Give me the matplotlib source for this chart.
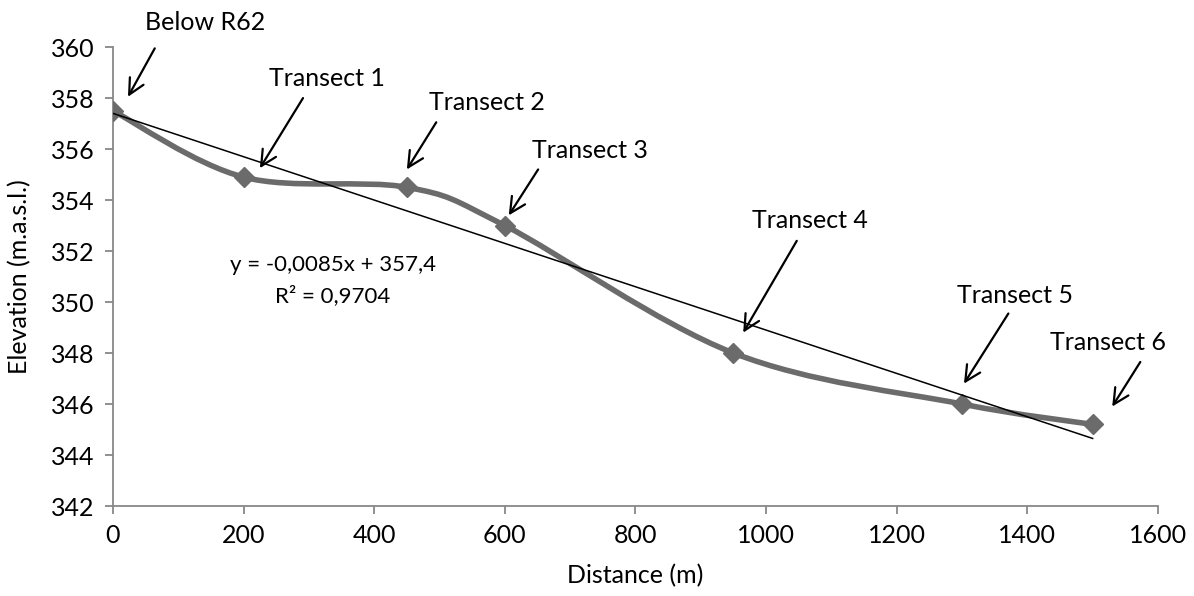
import numpy as np
import matplotlib.pyplot as plt
from matplotlib.path import Path
from matplotlib.patches import PathPatch

plt.rcParams['font.family'] = ['Lato', 'DejaVu Sans']

# Data
distance = [0, 200, 450, 600, 950, 1300, 1500]
elevation = [357.5, 354.9, 354.5, 353.0, 348.0, 346.0, 345.2]
labels = ['Below R62', 'Transect 1', 'Transect 2', 'Transect 3',
          'Transect 4', 'Transect 5', 'Transect 6']
# arrow head, arrow tail and label centre, data coords
arrow_heads = [(23, 358.05), (225, 355.25), (450, 355.2), (606, 353.4),
               (965, 348.8), (1303, 346.8), (1530, 345.9)]
arrow_tails = [(64, 359.95), (291, 358.0), (495, 357.05), (651, 355.2),
               (1047, 352.4), (1371, 349.55), (1573, 347.65)]
text_pos = [(141, 360.98), (328, 358.78), (573, 357.84), (730, 355.96),
            (1067, 353.2), (1381, 350.27), (1524, 348.43)]

slope, intercept = -0.0085, 357.4
r2 = 0.9704

fig = plt.figure(figsize=(11.94, 5.96), dpi=100)
ax = fig.add_axes([0.0946, 0.151, 0.8752, 0.770])

# Excel style smoothed line via cubic bezier segments
pts = np.array(list(zip(distance, elevation)), dtype=float)
ext = np.vstack([pts[0], pts, pts[-1]])
verts = [tuple(pts[0])]
codes = [Path.MOVETO]
for i in range(len(pts) - 1):
    p0, p1, p2, p3 = ext[i], ext[i + 1], ext[i + 2], ext[i + 3]
    c1 = p1 + (p2 - p0) / 6
    c2 = p2 - (p3 - p1) / 6
    verts += [tuple(c1), tuple(c2), tuple(p2)]
    codes += [Path.CURVE4] * 3
curve = PathPatch(Path(verts, codes), facecolor='none', edgecolor='#6b6b6b',
                  lw=4.0, capstyle='round', joinstyle='round', zorder=2)
ax.add_patch(curve)
ax.plot(distance, elevation, 'D', color='#6b6b6b', markersize=10, zorder=3)

# linear trendline
xt = np.array([distance[0], distance[-1]])
ax.plot(xt, slope * xt + intercept, color='black', lw=1.1, zorder=4)

ax.text(337, 351.45, 'y = -0,0085x + 357,4', ha='center', va='center', fontsize=16)
ax.text(337, 350.27, 'R² = 0,9704', ha='center', va='center', fontsize=16)

for lab, head, tail, tp in zip(labels, arrow_heads, arrow_tails, text_pos):
    ax.annotate('', xy=head, xytext=tail,
                arrowprops=dict(arrowstyle='->', color='black', lw=1.6,
                                mutation_scale=28, shrinkA=0, shrinkB=0))
    ax.text(tp[0], tp[1], lab, ha='center', va='center', fontsize=18,
            clip_on=False)

ax.set_xlim(0, 1600)
ax.set_ylim(342, 360)
ax.set_xticks(range(0, 1601, 200))
ax.set_yticks(range(342, 361, 2))
ax.spines['top'].set_visible(False)
ax.spines['right'].set_visible(False)
for s in ['left', 'bottom']:
    ax.spines[s].set_color('#888888')
    ax.spines[s].set_linewidth(1.3)
ax.tick_params(axis='both', colors='#888888', labelcolor='black',
               labelsize=18, length=6, width=1.3, direction='out', pad=7)
ax.set_xlabel('Distance (m)', fontsize=18, labelpad=12)
ax.set_ylabel('Elevation (m.a.s.l.)', fontsize=18, labelpad=14)

fig.savefig('out.png', dpi=100)
